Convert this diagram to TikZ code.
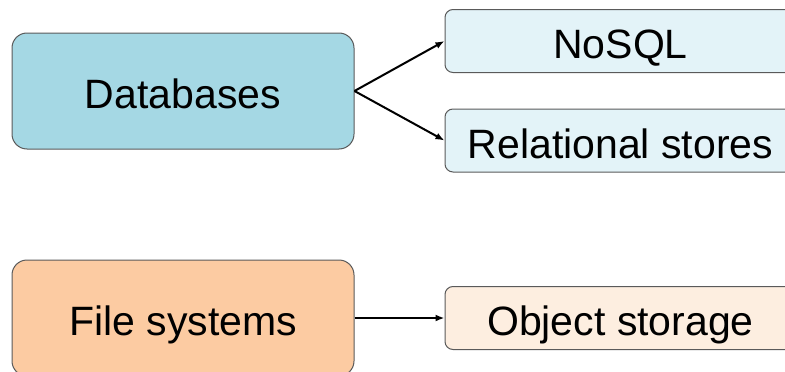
\documentclass[tikz,border=0pt]{standalone}
\usepackage{fontspec}
\setmainfont{Liberation Sans}
\usetikzlibrary{arrows.meta}
\definecolor{dbfill}{HTML}{A5D8E4}
\definecolor{subblue}{HTML}{E3F3F8}
\definecolor{fsfill}{HTML}{FCCBA2}
\definecolor{suborange}{HTML}{FDEEE0}
\definecolor{edgegray}{HTML}{5A5A5A}
\tikzset{
  boxtext/.style={font=\fontsize{41}{48}\selectfont, text height=35.5pt, text depth=0pt, inner sep=0pt},
  bigbox/.style={boxtext, draw=edgegray, line width=1pt, rounded corners=15pt, minimum width=342pt, minimum height=116pt},
  smallbox/.style={boxtext, draw=edgegray, line width=1pt, rounded corners=8pt, minimum width=351pt, minimum height=63pt},
  conn/.style={line width=2pt, -{Latex[length=9pt,width=7pt]}}
}
\begin{document}
\begin{tikzpicture}[x=1pt,y=-1pt]
\useasboundingbox (0,0) rectangle (785,372);
\clip (0,0) rectangle (785,372);
\node[bigbox, fill=dbfill] (db) at (183,91) {Databases};
\node[smallbox, fill=subblue] (nosql) at (620.5,41) {NoSQL};
\node[smallbox, fill=subblue] (rel) at (620.5,140.5) {Relational stores};
\node[bigbox, fill=fsfill] (fs) at (183,318) {File systems};
\node[smallbox, fill=suborange] (obj) at (620.5,318) {Object storage};
\draw[conn] (db.east) -- (nosql.west);
\draw[conn] (db.east) -- (rel.west);
\draw[conn] (fs.east) -- (obj.west);
\end{tikzpicture}
\end{document}
